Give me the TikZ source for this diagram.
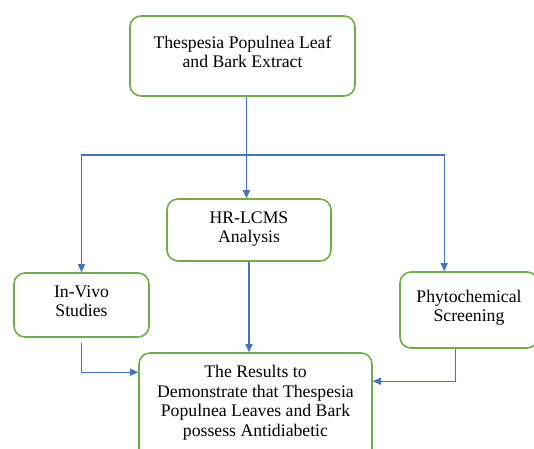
\documentclass[tikz,border=0pt]{standalone}
\usepackage{fontspec}
\setmainfont{Liberation Serif}
\usetikzlibrary{positioning,arrows.meta,calc}

\definecolor{boxgreen}{RGB}{112,173,71}
\definecolor{linkblue}{RGB}{68,114,196}

\begin{document}
\begin{tikzpicture}[
  x=1pt,y=-1pt,
  font=\fontsize{17.7}{19.5}\selectfont,
  stepbox/.style={draw=boxgreen,line width=1.6pt,rounded corners=11pt,
    align=center,inner sep=0pt},
  link/.style={linkblue,line width=1.1pt,-{Triangle[width=7pt,length=8pt]}}
]
\useasboundingbox (0,0) rectangle (534,448);
% boxes
\node[stepbox,minimum width=225pt,minimum height=80pt] (extract) at (242.5,56)
  {Thespesia Populnea Leaf\\ and Bark Extract\\[-11.5pt]};
\node[stepbox,minimum width=164pt,minimum height=62pt] (hrlcms) at (249,230)
  {HR-LCMS\\ Analysis\\[-13.5pt]};
\node[stepbox,minimum width=135pt,minimum height=64pt] (invivo) at (81.5,305)
  {In-Vivo\\ Studies\\[-11.5pt]};
\node[stepbox,minimum width=138pt,minimum height=76pt] (phyto) at (469,310)
  {Phytochemical\\ Screening\\[-11.5pt]};
\node[stepbox,minimum width=233pt,minimum height=110pt] (result) at (255.5,408)
  {The Results to\\ Demonstrate that Thespesia\\ Populnea Leaves and Bark\\
   possess Antidiabetic\\[-5.5pt]};
% connectors
\coordinate (split) at (246.5,155);
\draw[link] (split |- extract.south) -- (split |- hrlcms.north);
\draw[link] (split) -| (invivo.north);
\draw[link] (split) -| ([xshift=45pt]phyto.north west);
\draw[link] (hrlcms.south) -- (hrlcms.south |- result.north);
\draw[link] ([yshift=-5pt]invivo.south) |- ([yshift=-20pt]result.north west);
\draw[link] ([xshift=56pt]phyto.south west) |- ([yshift=-29pt]result.north east);
\end{tikzpicture}
\end{document}
